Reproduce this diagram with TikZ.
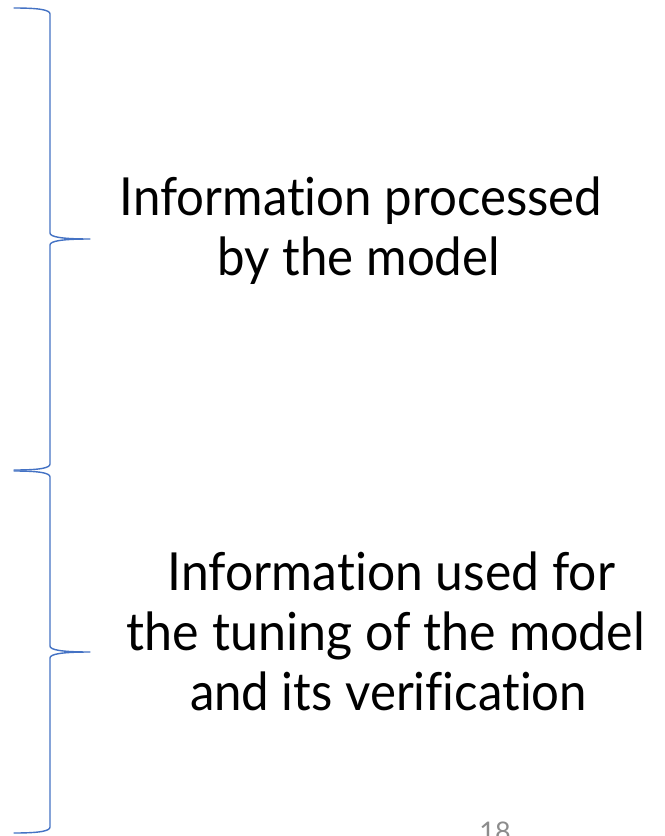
\documentclass[tikz,border=0pt]{standalone}
\usepackage{fontspec}
\setmainfont{Lato}[Ligatures={NoCommon}]
\usepackage{graphicx}
\definecolor{bracecol}{HTML}{4472C4}
\definecolor{pagenum}{HTML}{8C8C8C}
\tikzset{
  bracestyle/.style={draw=bracecol, line width=1.4bp, line join=round, line cap=round},
  label/.style={anchor=base, inner sep=0pt, outer sep=0pt, text=black,
                font=\fontsize{52.5bp}{60bp}\selectfont},
  pageno/.style={anchor=base, inner sep=0pt, text=pagenum,
                font=\fontsize{27bp}{30bp}\selectfont}
}
% stretch a line horizontally to a given width, keeping its height
\newcommand{\fitline}[2]{\resizebox{#1}{\height}{#2}}
\begin{document}
\begin{tikzpicture}[x=1bp, y=-1bp]
  \useasboundingbox[fill=white] (0,0) rectangle (665,836);

  % upper brace
  \draw[bracestyle] (14,8) .. controls (40,8) and (50,10) .. (50,14)
    -- (50,233) .. controls (50,237) and (62,239) .. (90,239)
    .. controls (62,239) and (50,241) .. (50,245)
    -- (50,464) .. controls (50,468) and (40,470) .. (14,470);

  % lower brace
  \draw[bracestyle] (14,471) .. controls (40,471) and (50,473) .. (50,477)
    -- (50,646) .. controls (50,650) and (62,652) .. (90,652)
    .. controls (62,652) and (50,654) .. (50,658)
    -- (50,827) .. controls (50,831) and (40,833) .. (14,833);

  % text for the upper brace
  \node[label] (upA) at (361,215) {\fitline{482bp}{Information processed}};
  \node[label] (upB) at (359,275) {\fitline{282bp}{by the model}};

  % text for the lower brace
  \node[label] (loA) at (391.5,590) {\fitline{447bp}{Information used for}};
  \node[label] (loB) at (386,650) {\fitline{518bp}{the tuning of the model}};
  \node[label] (loC) at (388.5,710) {\fitline{397bp}{and its verification}};

  % page number
  \node[pageno] (page) at (495,841) {18};
\end{tikzpicture}
\end{document}
